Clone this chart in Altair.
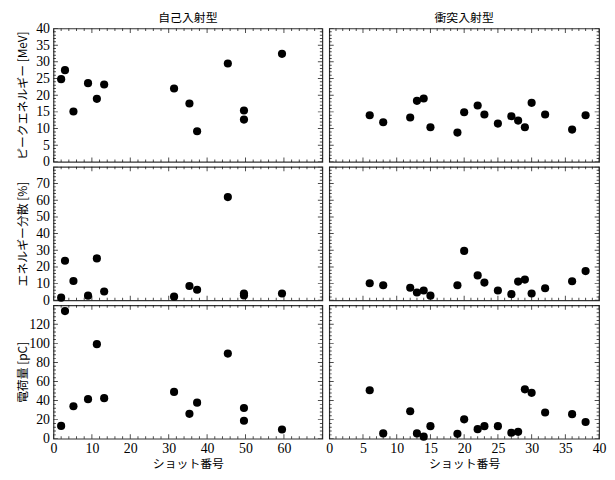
import altair as alt
import pandas as pd

# ---- data ----
self_shot = [2, 3, 5.2, 9, 11.3, 13.2, 31.4, 35.4, 37.4, 45.4, 49.6, 49.6, 59.5]
self_energy = [24.8, 27.5, 15.1, 23.6, 18.9, 23.2, 22.0, 17.5, 9.2, 29.5, 15.4, 12.7, 32.4]
self_spread = [1.6, 23.7, 11.6, 2.8, 25.1, 5.3, 2.2, 8.6, 6.3, 61.9, 4.1, 2.9, 4.1]
self_charge = [13.4, 133.9, 34.0, 41.5, 99.2, 42.5, 49.1, 26.1, 37.8, 89.3, 32.2, 18.8, 9.6]

coll_shot = [6, 8, 12, 13, 14, 15, 19, 20, 22, 23, 25, 27, 28, 29, 30, 32, 36, 38]
coll_energy = [14.0, 11.9, 13.3, 18.3, 19.0, 10.4, 8.8, 14.9, 16.9, 14.2, 11.5, 13.7, 12.4, 10.4, 17.7, 14.2, 9.7, 14.0]
coll_spread = [10.2, 9.0, 7.5, 4.7, 5.9, 2.8, 9.0, 29.6, 14.9, 10.6, 5.9, 3.7, 11.2, 12.4, 4.1, 7.2, 11.4, 17.5]
coll_charge = [50.8, 5.5, 28.8, 5.5, 2.1, 13.1, 5.1, 20.3, 10.0, 13.1, 13.1, 6.2, 7.2, 51.8, 48.1, 27.5, 25.7, 17.5]

col_titles = ["自己入射型", "衝突入射型"]
row_titles = ["ピークエネルギー [MeV]", "エネルギー分散 [%]", "電荷量 [pC]"]
x_title = "ショット番号"

self_x_labels = [0, 10, 20, 30, 40, 50, 60]
coll_x_labels = [0, 5, 10, 15, 20, 25, 30, 35, 40]
y_labels = [[0, 5, 10, 15, 20, 25, 30, 35, 40],
            [0, 10, 20, 30, 40, 50, 60, 70],
            [0, 20, 40, 60, 80, 100, 120]]

# domains and tick steps (major, minor)
self_x_dom = [0, 70]
coll_x_dom = [0, 40]
y_doms = [[0, 40], [0, 80], [0, 140]]
self_x_steps = (10, 2)
coll_x_steps = (5, 1)
y_steps = [(5, 1), (10, 2), (20, 4)]

FONT_JP = "Noto Sans CJK JP"
FONT_NUM = "Liberation Serif"
W_L, W_R, H = 272, 273, 135

self_df = pd.DataFrame({"shot": self_shot, "e": self_energy, "s": self_spread, "c": self_charge})
coll_df = pd.DataFrame({"shot": coll_shot, "e": coll_energy, "s": coll_spread, "c": coll_charge})


def tick_df(steps, dom):
    major, minor = steps
    lo, hi = dom
    n = int(round((hi - lo) / minor))
    rows = []
    for i in range(n + 1):
        v = lo + i * minor
        r = v / major
        rows.append({"v": v, "kind": "major" if abs(r - round(r)) < 1e-9 else "minor"})
    return pd.DataFrame(rows)


size_enc = alt.Size("kind:N", scale=alt.Scale(domain=["major", "minor"], range=[9, 5]), legend=None)


def x_axis(values):
    return alt.Axis(values=values, ticks=False, domain=False, grid=False,
                    labelFont=FONT_NUM, labelFontSize=14, labelColor="black",
                    labelPadding=3, labelFlush=False, labelOverlap=False,
                    title=x_title, titleFont=FONT_JP, titleFontSize=12,
                    titleFontWeight="normal", titleColor="black", titlePadding=3)


def y_axis(values, title):
    return alt.Axis(values=values, ticks=False, domain=False, grid=False,
                    labelFont=FONT_NUM, labelFontSize=14, labelColor="black",
                    labelPadding=4, labelFlush=False, labelOverlap=False,
                    minExtent=24, maxExtent=24,
                    title=title, titleFont=FONT_JP, titleFontSize=12,
                    titleFontWeight="normal", titleColor="black",
                    titleX=-31, titleY=H / 2, titleBaseline="middle")


def enc(ch, field, scale, axis):
    cls = alt.X if ch == "x" else alt.Y
    if axis is None:
        return cls(field, scale=scale, axis=None)
    return cls(field, scale=scale, axis=axis)


def panel(df, yf, xdom, ydom, xsteps, ysteps, width, xaxis, yaxis, title=None):
    xs = alt.Scale(domain=xdom, nice=False, zero=False)
    ys = alt.Scale(domain=ydom, nice=False, zero=False)
    pts = alt.Chart(df).mark_circle(size=68, color="black", opacity=1).encode(
        x=enc("x", "shot:Q", xs, xaxis), y=enc("y", f"{yf}:Q", ys, yaxis))
    xt = tick_df(xsteps, xdom)
    yt = tick_df(ysteps, ydom)
    base_tick = dict(clip=True, color="black", thickness=1)
    bottom = alt.Chart(xt).mark_tick(**base_tick).encode(
        x=enc("x", "v:Q", xs, xaxis), y=alt.value(H), size=size_enc)
    top = alt.Chart(xt).mark_tick(**base_tick).encode(
        x=enc("x", "v:Q", xs, xaxis), y=alt.value(0), size=size_enc)
    left = alt.Chart(yt).mark_tick(**base_tick).encode(
        y=enc("y", "v:Q", ys, yaxis), x=alt.value(0), size=size_enc)
    right = alt.Chart(yt).mark_tick(**base_tick).encode(
        y=enc("y", "v:Q", ys, yaxis), x=alt.value(width), size=size_enc)
    layers = [pts, bottom, top, left, right]
    if title:
        ttl = alt.Chart(pd.DataFrame({"t": [title]})).mark_text(
            font=FONT_JP, fontSize=12, color="black", baseline="middle", align="center"
        ).encode(text="t:N", x=alt.value(width / 2), y=alt.value(-11))
        layers.append(ttl)
    return alt.layer(*layers).properties(width=width, height=H)


panels = []
for i, yf in enumerate(["e", "s", "c"]):
    last = i == 2
    panels.append(panel(self_df, yf, self_x_dom, y_doms[i], self_x_steps, y_steps[i], W_L,
                        x_axis(self_x_labels) if last else None,
                        y_axis(y_labels[i], row_titles[i]),
                        col_titles[0] if i == 0 else None))
    panels.append(panel(coll_df, yf, coll_x_dom, y_doms[i], coll_x_steps, y_steps[i], W_R,
                        x_axis(coll_x_labels) if last else None,
                        None,
                        col_titles[1] if i == 0 else None))

chart = alt.concat(*panels, columns=2, spacing={"row": 5, "column": 7},
                   bounds="flush", align="each").configure_view(
    stroke="#333", strokeWidth=1.2
).properties(
    padding={"left": 8, "top": 0, "right": 0, "bottom": 0}
)

chart.save("out.html", embed_options={"renderer": "svg", "actions": False})
